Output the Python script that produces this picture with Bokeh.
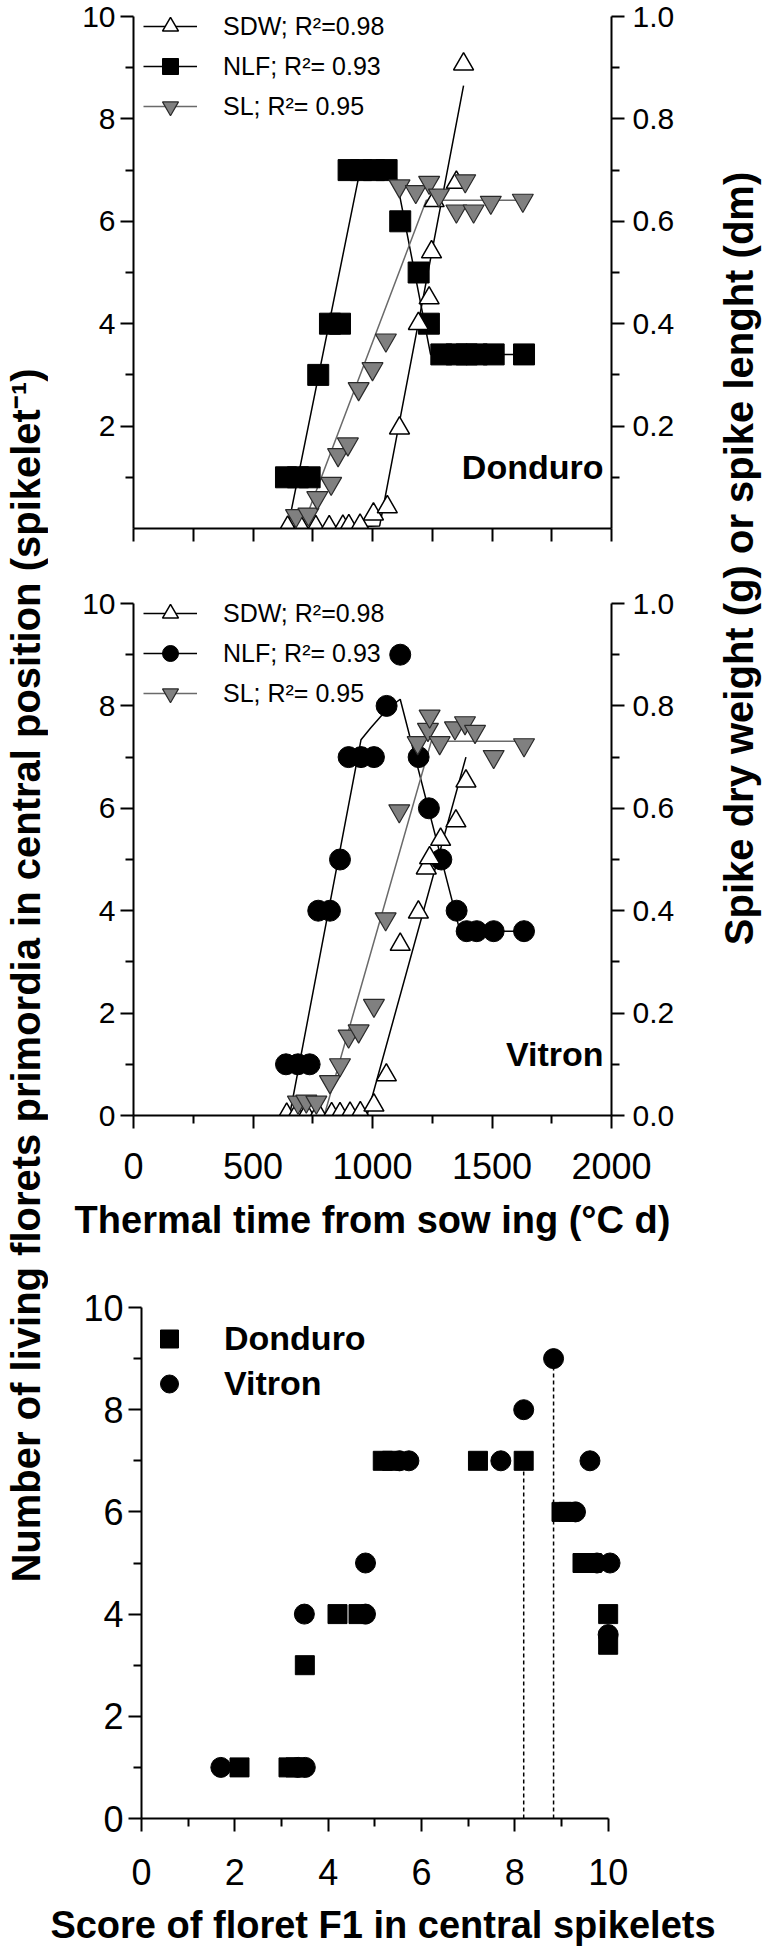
import math
from bokeh.plotting import figure
from bokeh.models import (Range1d, LinearAxis, FixedTicker, Label, Legend, LegendItem,
                          PrintfTickFormatter)
from bokeh.layouts import row, column
from bokeh.embed import file_html
from bokeh.resources import INLINE

FONT = "Liberation Sans"

# ---------------- data ----------------
# thermal time (degC d) of the floret counts
thermal_time = [638, 688, 737, 773, 822, 864, 900, 952, 1006, 1059, 1116, 1193, 1236, 1288, 1352, 1394, 1436, 1507, 1634]
nlf_donduro = [1, 1, 1, 3, 4, 4, 7, 7, 7, 7, 6, 5, 4, 3.4, 3.4, 3.4, 3.4, 3.4, 3.4]
nlf_vitron = [1, 1, 1, 4, 4, 5, 7, 7, 7, 8, 9, 7, 6, 5, 4, 3.6, 3.6, 3.6, 3.6]

# spike dry weight (g)
sdw_donduro_tt = [645, 701, 763, 819, 876, 901, 948, 1004, 1062, 1113, 1192, 1237, 1247, 1258, 1351, 1381]
sdw_donduro = [0.002, 0.002, 0.003, 0.003, 0.004, 0.005, 0.006, 0.028, 0.042, 0.196, 0.40, 0.45, 0.54, 0.64, 0.676, 0.907]
sdw_vitron_tt = [641, 681, 723, 773, 829, 864, 906, 949, 1006, 1058, 1116, 1192, 1225, 1239, 1285, 1349, 1391]
sdw_vitron = [0.002, 0.002, 0.002, 0.003, 0.003, 0.003, 0.004, 0.005, 0.020, 0.079, 0.334, 0.397, 0.483, 0.503, 0.539, 0.575, 0.653]

# spike length (dm)
sl_donduro_tt = [680, 732, 769, 827, 856, 897, 942, 1000, 1056, 1113, 1181, 1237, 1278, 1351, 1388, 1423, 1495, 1629]
sl_donduro = [0.025, 0.028, 0.060, 0.088, 0.144, 0.165, 0.273, 0.312, 0.368, 0.669, 0.658, 0.676, 0.651, 0.620, 0.679, 0.620, 0.637, 0.641]
sl_vitron_tt = [688, 723, 765, 822, 864, 900, 942, 1006, 1055, 1112, 1189, 1232, 1239, 1281, 1345, 1387, 1429, 1507, 1634]
sl_vitron = [0.026, 0.028, 0.026, 0.066, 0.099, 0.155, 0.165, 0.215, 0.384, 0.595, 0.728, 0.754, 0.780, 0.728, 0.757, 0.767, 0.750, 0.701, 0.724]

# fitted curves
nlf_fit_donduro_tt = [645, 948, 1093, 1243, 1634]
nlf_fit_donduro = [0, 7, 7, 3.4, 3.4]
sdw_fit_donduro_tt = [640, 1030, 1381]
sdw_fit_donduro = [0, 0.005, 0.865]
sl_fit_donduro_tt = [705, 1225, 1634]
sl_fit_donduro = [0, 0.641, 0.641]

nlf_fit_vitron_tt = [653, 952, 992, 1062, 1116, 1366, 1634]
nlf_fit_vitron = [0, 7.34, 7.57, 7.94, 8.13, 3.6, 3.6]
sdw_fit_vitron_tt = [640, 977, 1391]
sdw_fit_vitron = [0, 0, 0.70]
sl_fit_vitron_tt = [798, 1246, 1634]
sl_fit_vitron = [0, 0.731, 0.731]

# score of floret F1 vs living florets
score_donduro = [2.1, 3.15, 3.3, 3.5, 4.2, 4.65, 5.17, 5.37, 7.21, 8.19, 9.0, 9.15, 9.45, 9.65, 10.0, 10.0]
nlf_score_donduro = [1, 1, 1, 3, 4, 4, 7, 7, 7, 7, 6, 6, 5, 5, 4, 3.4]
score_vitron = [1.7, 3.36, 3.51, 3.49, 4.8, 4.8, 5.53, 5.73, 7.7, 8.19, 8.83, 9.3, 9.61, 9.76, 10.04, 10.0]
nlf_score_vitron = [1, 1, 1, 4, 4, 5, 7, 7, 7, 8, 9, 6, 7, 5, 5, 3.6]
drop_score = [8.19, 8.83]
drop_nlf = [7, 9]

tt_ticks = [0, 500, 1000, 1500, 2000]
tt_minor = [250, 750, 1250, 1750]
tt_all = [0, 250, 500, 750, 1000, 1250, 1500, 1750, 2000]


def style_axis(ax, size, ticks, minor, standoff=5, fmt=None, bounds=None):
    ax.ticker = FixedTicker(ticks=ticks, minor_ticks=minor)
    ax.axis_line_width = 2
    ax.axis_line_color = "black"
    ax.major_tick_line_width = 2
    ax.minor_tick_line_width = 2
    ax.major_tick_line_color = "black"
    ax.minor_tick_line_color = "black"
    ax.major_tick_out = 13
    ax.major_tick_in = 0
    ax.minor_tick_out = 8
    ax.minor_tick_in = 0
    ax.major_label_text_font = FONT
    ax.major_label_text_font_size = f"{size}px"
    ax.major_label_text_color = "black"
    ax.major_label_standoff = standoff
    if fmt:
        ax.formatter = PrintfTickFormatter(format=fmt)
    if bounds:
        ax.bounds = bounds


PANEL_W = 664
Y_TOP = 10.3125  # a little headroom above 10 for the legend (axis itself stops at 10)


def time_panel(height, b_top, b_bottom, nlf_y, nlf_marker, sdw_x, sdw_y, sl_x, sl_y,
               nlf_fx, nlf_fy, sdw_fx, sdw_fy, sl_fx, sl_fy, name, left_ticks, right_ticks,
               x_labels):
    p = figure(width=PANEL_W, height=height, x_range=Range1d(0, 2000),
               y_range=Range1d(0, Y_TOP), output_backend="svg", toolbar_location=None,
               min_border_left=85, min_border_right=101, min_border_top=b_top,
               min_border_bottom=b_bottom, outline_line_color=None)
    p.grid.visible = False
    p.extra_y_ranges = {"r": Range1d(0, Y_TOP / 10)}

    l_nlf = p.line(nlf_fx, nlf_fy, line_color="black", line_width=1.5)
    l_sdw = p.line(sdw_fx, sdw_fy, y_range_name="r", line_color="black", line_width=1.5)
    l_sl = p.line(sl_fx, sl_fy, y_range_name="r", line_color="#6a6a6a", line_width=1.5)
    s_nlf = p.scatter(thermal_time, nlf_y, marker=nlf_marker, size=21,
                      fill_color="black", line_color="black")
    s_sdw = p.scatter(sdw_x, sdw_y, y_range_name="r", marker="triangle", size=20,
                      fill_color="white", line_color="black", line_width=1.5)
    s_sl = p.scatter(sl_x, sl_y, y_range_name="r", marker="inverted_triangle", size=21,
                     fill_color="#808080", line_color="#2a2a2a", line_width=1.2)

    if x_labels:
        style_axis(p.xaxis[0], 36, tt_ticks, tt_minor, standoff=24)
        p.xaxis[0].axis_label = "Thermal time from sow ing (°C d)"
        p.xaxis[0].axis_label_text_font = FONT
        p.xaxis[0].axis_label_text_font_style = "bold"
        p.xaxis[0].axis_label_text_font_size = "38px"
        p.xaxis[0].axis_label_text_color = "black"
        p.xaxis[0].axis_label_standoff = 17
    else:
        style_axis(p.xaxis[0], 30, [], tt_all)
        p.xaxis[0].minor_tick_out = 13
    style_axis(p.yaxis[0], 30, left_ticks, [1, 3, 5, 7, 9], bounds=(0, 10))

    rax = LinearAxis(y_range_name="r")
    style_axis(rax, 30, right_ticks, [0.1, 0.3, 0.5, 0.7, 0.9], standoff=8, fmt="%.1f",
               bounds=(0, 1))
    p.add_layout(rax, "right")

    leg = Legend(items=[
        LegendItem(label="SDW; R²=0.98", renderers=[l_sdw, s_sdw]),
        LegendItem(label="NLF; R²= 0.93", renderers=[l_nlf, s_nlf]),
        LegendItem(label="SL; R²= 0.95", renderers=[l_sl, s_sl]),
    ], location=(10, 402), glyph_width=54, glyph_height=40, label_height=40,
        label_standoff=26, spacing=0, padding=0, margin=0,
        border_line_color=None, background_fill_alpha=0,
        label_text_font=FONT, label_text_font_size="25px", label_text_color="black")
    p.add_layout(leg)

    p.add_layout(Label(x=470, y=62, x_units="screen", y_units="screen", text=name,
                       text_align="right", text_baseline="middle", text_font=FONT,
                       text_font_style="bold", text_font_size="34px", text_color="black"))
    return p


top = time_panel(568, 0, 40, nlf_donduro, "square", sdw_donduro_tt, sdw_donduro,
                 sl_donduro_tt, sl_donduro, nlf_fit_donduro_tt, nlf_fit_donduro,
                 sdw_fit_donduro_tt, sdw_fit_donduro, sl_fit_donduro_tt, sl_fit_donduro,
                 "Donduro", [2, 4, 6, 8, 10], [0.2, 0.4, 0.6, 0.8, 1.0], False)
mid = time_panel(700, 19, 153, nlf_vitron, "circle", sdw_vitron_tt, sdw_vitron,
                 sl_vitron_tt, sl_vitron, nlf_fit_vitron_tt, nlf_fit_vitron,
                 sdw_fit_vitron_tt, sdw_fit_vitron, sl_fit_vitron_tt, sl_fit_vitron,
                 "Vitron", [0, 2, 4, 6, 8, 10], [0.0, 0.2, 0.4, 0.6, 0.8, 1.0], True)

# ---------------- bottom panel ----------------
bot = figure(width=714, height=687, x_range=Range1d(0, 10.35), y_range=Range1d(0, 10),
             output_backend="svg", toolbar_location=None,
             min_border_left=93, min_border_right=138, min_border_top=39,
             min_border_bottom=137, outline_line_color=None)
bot.grid.visible = False
bot.segment(x0=drop_score, y0=[0, 0], x1=drop_score, y1=drop_nlf, line_color="black",
            line_width=1.5, line_dash="4 3")
sq = bot.scatter(score_donduro, nlf_score_donduro, marker="square", size=19,
                 fill_color="black", line_color="black")
ci = bot.scatter(score_vitron, nlf_score_vitron, marker="circle", size=20,
                 fill_color="black", line_color="black")
style_axis(bot.xaxis[0], 36, [0, 2, 4, 6, 8, 10], [1, 3, 5, 7, 9], standoff=27, bounds=(0, 10))
style_axis(bot.yaxis[0], 36, [0, 2, 4, 6, 8, 10], [1, 3, 5, 7, 9])
bot.xaxis[0].axis_label = "Score of floret F1 in central spikelets"
bot.xaxis[0].axis_label_text_font = FONT
bot.xaxis[0].axis_label_text_font_style = "bold"
bot.xaxis[0].axis_label_text_font_size = "38px"
bot.xaxis[0].axis_label_text_color = "black"
bot.xaxis[0].axis_label_standoff = 16
bleg = Legend(items=[LegendItem(label="Donduro", renderers=[sq]),
                     LegendItem(label="Vitron", renderers=[ci])],
              location=(4, 412), glyph_width=48, glyph_height=45, label_height=45,
              label_standoff=31, spacing=0, padding=0, margin=0,
              border_line_color=None, background_fill_alpha=0,
              label_text_font=FONT, label_text_font_style="bold",
              label_text_font_size="34px", label_text_color="black")
bot.add_layout(bleg)

# ---------------- shared titles ----------------
left = figure(width=48, height=1955, x_range=Range1d(0, 1), y_range=Range1d(0, 1),
              output_backend="svg", toolbar_location=None, min_border=0,
              x_axis_location=None, y_axis_location=None, outline_line_color=None)
left.grid.visible = False
left.add_layout(Label(x=25, y=980, x_units="screen", y_units="screen", angle=math.pi / 2,
                      text="Number of living florets primordia in central position (spikelet⁻¹)",
                      text_align="center", text_baseline="middle", text_font=FONT,
                      text_font_style="bold", text_font_size="40px", text_color="black"))

right = figure(width=50, height=1268, x_range=Range1d(0, 1), y_range=Range1d(0, 1),
               output_backend="svg", toolbar_location=None, min_border=0,
               x_axis_location=None, y_axis_location=None, outline_line_color=None)
right.grid.visible = False
right.add_layout(Label(x=26, y=710, x_units="screen", y_units="screen", angle=math.pi / 2,
                       text="Spike dry weight (g) or spike lenght (dm)",
                       text_align="center", text_baseline="middle", text_font=FONT,
                       text_font_style="bold", text_font_size="40px", text_color="black"))

layout = row(left, column(row(column(top, mid), right), bot))
open("out.html", "w").write(file_html(layout, INLINE))
